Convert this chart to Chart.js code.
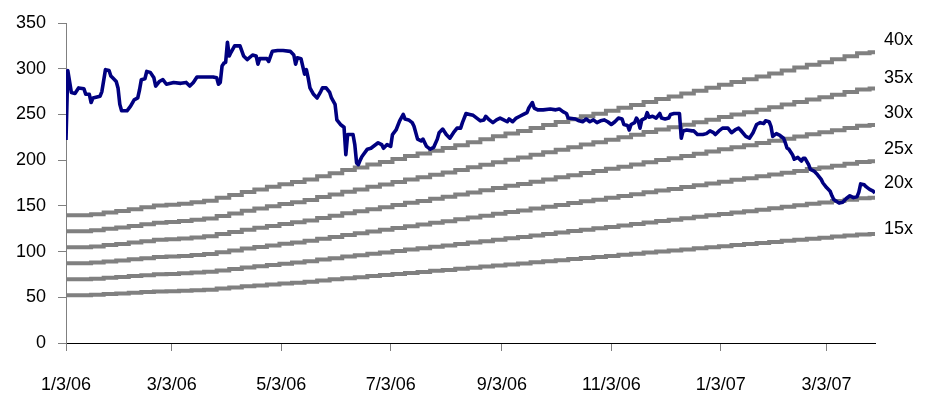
<!DOCTYPE html>
<html>
<head>
<meta charset="utf-8">
<script src="https://cdn.jsdelivr.net/npm/chart.js@4.4.0/dist/chart.umd.min.js"></script>
<style>
  body { margin: 0; background: #fff; }
  #wrap { width: 935px; height: 399px; position: relative; }
</style>
</head>
<body>
<div id="wrap"><canvas id="chart"></canvas></div>
<script>
// days counted from 1/3/06
const xTickDays = [0, 59, 120, 181, 243, 304, 365, 424];
const xTickLabels = ["1/3/06", "3/3/06", "5/3/06", "7/3/06", "9/3/06", "11/3/06", "1/3/07", "3/3/07"];
const yTicks = [0, 50, 100, 150, 200, 250, 300, 350];

const priceDays = [
  0, 1, 2, 3, 5, 7, 10, 11, 13, 14, 15, 19, 20, 22, 24, 25, 26, 28, 29, 30,
  31, 34, 36, 38, 40, 41, 42, 44, 45, 47, 49, 50, 52, 54, 56, 60, 64, 67, 69, 71,
  73, 78, 82, 84, 85, 86, 87, 88, 89, 90, 91, 92, 94, 97, 99, 101, 104, 106, 107, 108,
  112, 113, 115, 118, 121, 125, 127, 128, 129, 131, 133, 134, 135, 136, 138, 140, 142, 143, 145, 147,
  148, 150, 151, 153, 155, 156, 157, 160, 161, 162, 163, 164, 165, 168, 170, 174, 176, 177, 179, 181,
  182, 184, 186, 188, 189, 191, 193, 194, 196, 198, 199, 201, 203, 205, 207, 208, 210, 212, 214, 216,
  218, 220, 221, 223, 225, 227, 229, 231, 233, 234, 236, 238, 240, 242, 244, 246, 247, 249, 251, 253,
  255, 257, 258, 260, 261, 263, 266, 270, 273, 275, 277, 279, 280, 284, 286, 288, 290, 292, 294, 296,
  298, 300, 302, 304, 306, 308, 310, 311, 313, 314, 315, 317, 318, 319, 320, 321, 323, 324, 325, 327,
  329, 331, 332, 334, 336, 337, 339, 342, 343, 344, 346, 349, 350, 352, 355, 357, 359, 361, 362, 364,
  366, 369, 371, 373, 375, 376, 379, 381, 383, 385, 387, 389, 390, 392, 393, 394, 396, 398, 400, 401,
  402, 403, 405, 406, 408, 410, 411, 412, 414, 415, 417, 419, 421, 422, 424, 426, 427, 428, 431, 433,
  435, 437, 439, 441, 442, 443, 445, 446, 448, 450, 451
];
const priceValues = [
  222, 298, 286, 274, 273, 279, 278, 272, 272, 263, 268, 270, 275, 299, 298, 292, 290, 286, 279, 261,
  254, 254, 259, 266, 268, 277, 288, 289, 297, 296, 290, 281, 286, 288, 283, 285, 284, 285, 281, 285,
  291, 291, 291, 290, 283, 285, 303, 306, 307, 329, 314, 318, 325, 325, 314, 310, 315, 314, 305, 311,
  311, 308, 319, 320, 320, 319, 315, 305, 312, 311, 294, 299, 290, 279, 272, 268, 275, 279, 279, 274,
  268, 261, 244, 239, 236, 206, 228, 228, 217, 197, 195, 200, 204, 212, 213, 219, 217, 213, 217, 215,
  228, 233, 243, 250, 245, 244, 241, 237, 223, 221, 223, 215, 212, 214, 223, 230, 234, 228, 224, 230,
  235, 235, 241, 251, 250, 249, 246, 243, 244, 248, 244, 241, 244, 246, 244, 242, 245, 242, 246, 248,
  250, 252, 257, 263, 257, 255, 255, 256, 255, 256, 253, 251, 246, 245, 243, 242, 245, 242, 244, 241,
  243, 244, 242, 239, 242, 246, 245, 239, 238, 233, 239, 241, 246, 243, 235, 244, 246, 252, 247, 248,
  246, 251, 246, 245, 246, 250, 251, 251, 224, 232, 233, 232, 232, 228, 228, 229, 232, 230, 228, 232,
  235, 235, 230, 233, 235, 233, 226, 224, 230, 239, 241, 240, 243, 242, 237, 226, 229, 227, 224, 219,
  213, 212, 206, 201, 203, 199, 202, 202, 195, 190, 188, 184, 179, 175, 170, 166, 161, 157, 153, 154,
  158, 161, 159, 160, 165, 174, 173, 171, 168, 166, 164
];

// earnings per share used for the P/E bands, weekly
const epsDays = [
  0, 7, 14, 21, 28, 35, 42, 49, 56, 63, 70, 77, 84, 91, 98, 105, 112, 119, 126, 133,
  140, 147, 154, 161, 168, 175, 182, 189, 196, 203, 210, 217, 224, 231, 238, 245, 252, 259, 266, 273,
  280, 287, 294, 301, 308, 315, 322, 329, 336, 343, 350, 357, 364, 371, 378, 385, 392, 399, 406, 413,
  420, 427, 434, 441, 448, 451
];
const epsValues = [
  3.49, 3.49, 3.49, 3.52, 3.57, 3.61, 3.66, 3.71, 3.76, 3.78, 3.81, 3.85, 3.89, 3.97, 4.05, 4.13, 4.20, 4.27, 4.34, 4.40,
  4.47, 4.56, 4.64, 4.73, 4.80, 4.88, 4.95, 5.03, 5.11, 5.18, 5.26, 5.33, 5.41, 5.49, 5.57, 5.65, 5.73, 5.80, 5.88, 5.96,
  6.04, 6.12, 6.20, 6.27, 6.35, 6.43, 6.51, 6.59, 6.67, 6.74, 6.82, 6.90, 6.98, 7.06, 7.14, 7.21, 7.29, 7.37, 7.45, 7.53,
  7.61, 7.68, 7.76, 7.84, 7.92, 7.95
];
const multiples = [40, 35, 30, 25, 20, 15];
const multipleLabels = ["40x", "35x", "30x", "25x", "20x", "15x"];

const FONT = "'Liberation Sans', Arial, sans-serif";

const bandLabels = {
  id: "bandLabels",
  afterDatasetsDraw(chart) {
    const ctx = chart.ctx;
    const y = chart.scales.y;
    const area = chart.chartArea;
    const lastEps = epsValues[epsValues.length - 1];
    const nudge = [-12, -11, -12, -12, -15, -5];
    ctx.save();
    ctx.font = "18px " + FONT;
    ctx.fillStyle = "#000";
    ctx.textBaseline = "middle";
    ctx.textAlign = "left";
    multiples.forEach((m, i) => {
      ctx.fillText(multipleLabels[i], area.right + 9, y.getPixelForValue(m * lastEps) + nudge[i]);
    });
    ctx.restore();
  }
};

const createChart = () => {
  const ctx = document.querySelector("canvas#chart");

  const priceData = priceDays.map((d, i) => ({ x: d, y: priceValues[i] }));

  const bandSets = multiples.map(m => ({
    label: m + "x",
    data: epsDays.map((d, i) => ({ x: d, y: +(m * epsValues[i]).toFixed(2) })),
    borderColor: "#808080",
    borderWidth: 4,
    pointRadius: 0,
    stepped: "after",
    order: 1
  }));

  new Chart(ctx, {
    type: "line",
    data: {
      datasets: [
        {
          label: "Price",
          data: priceData,
          borderColor: "#000080",
          borderWidth: 3.6,
          pointRadius: 0,
          tension: 0,
          borderJoinStyle: "round",
          order: 0
        },
        ...bandSets
      ]
    },
    options: {
      responsive: true,
      maintainAspectRatio: false,
      animation: false,
      layout: { padding: { top: 23, right: 60, left: 0, bottom: 0 } },
      plugins: { legend: { display: false }, tooltip: { enabled: false } },
      scales: {
        x: {
          type: "linear",
          min: 0,
          max: 451,
          afterBuildTicks: scale => { scale.ticks = xTickDays.map(v => ({ value: v })); },
          afterFit: scale => { scale.height = 56; },
          grid: { drawOnChartArea: false, drawTicks: true, tickLength: 8, color: "#808080" },
          border: { color: "#000", width: 1 },
          ticks: {
            autoSkip: false,
            maxRotation: 0,
            padding: 23,
            color: "#000",
            font: { family: FONT, size: 18 },
            callback: (v, i) => xTickLabels[i]
          }
        },
        y: {
          min: 0,
          max: 350,
          afterBuildTicks: scale => { scale.ticks = yTicks.map(v => ({ value: v })); },
          afterFit: scale => { scale.width = 66; },
          grid: { drawOnChartArea: false, drawTicks: true, tickLength: 8, color: "#808080" },
          border: { color: "#808080", width: 1 },
          ticks: {
            padding: 12,
            color: "#000",
            font: { family: FONT, size: 18 }
          }
        }
      }
    },
    plugins: [bandLabels]
  });
};

createChart();
</script>
</body>
</html>
